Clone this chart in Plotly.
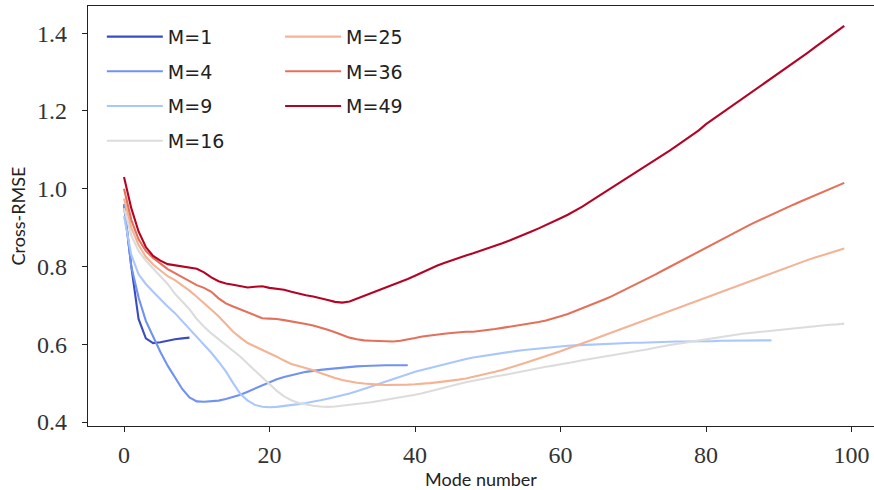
import plotly.graph_objects as go

# ---- data ----
labels = ["M=1", "M=4", "M=9", "M=16", "M=25", "M=36", "M=49"]
colors = ["#3b4cc0", "#6f92f3", "#aac7fd", "#dddcdc", "#f4b394", "#e5705a", "#b40426"]

m1 = [0.96, 0.80, 0.665, 0.615, 0.603, 0.605, 0.609, 0.613, 0.615, 0.617]

m4 = [0.96, 0.80, 0.72, 0.66, 0.62, 0.58, 0.545, 0.515, 0.485, 0.463,
      0.453, 0.452, 0.453, 0.455, 0.459, 0.464, 0.470, 0.478, 0.486, 0.495,
      0.503, 0.510, 0.516, 0.521, 0.525, 0.529, 0.532, 0.534, 0.536, 0.538,
      0.540, 0.542, 0.543, 0.544, 0.545, 0.545, 0.546, 0.546, 0.546, 0.546]

m9 = [0.93, 0.83, 0.78, 0.755, 0.735, 0.715, 0.697, 0.68, 0.66, 0.64,
      0.62, 0.60, 0.578, 0.555, 0.53, 0.50, 0.472, 0.455, 0.444, 0.439,
      0.438, 0.439, 0.441, 0.443, 0.446, 0.449, 0.452, 0.456, 0.460, 0.464,
      0.468, 0.473, 0.479, 0.486, 0.492, 0.498, 0.504, 0.511, 0.517, 0.523,
      0.529, 0.534, 0.539, 0.544, 0.549, 0.554, 0.558, 0.562, 0.566, 0.569,
      0.572, 0.575, 0.578, 0.580, 0.583, 0.585, 0.587, 0.589, 0.591, 0.593,
      0.594, 0.596, 0.597, 0.598, 0.599, 0.600, 0.601, 0.602, 0.603, 0.603,
      0.604, 0.604, 0.605, 0.605, 0.606, 0.606, 0.607, 0.607, 0.607, 0.608,
      0.608, 0.608, 0.609, 0.609, 0.609, 0.609, 0.610, 0.610, 0.610, 0.610]

m16 = [0.95, 0.88, 0.84, 0.815, 0.795, 0.775, 0.755, 0.73, 0.71, 0.69,
       0.665, 0.645, 0.628, 0.613, 0.598, 0.585, 0.568, 0.550, 0.532, 0.515,
       0.497, 0.480, 0.466, 0.456, 0.449, 0.445, 0.442, 0.440, 0.439, 0.440,
       0.442, 0.444, 0.446, 0.448, 0.451, 0.454, 0.457, 0.460, 0.463, 0.467,
       0.470, 0.474, 0.479, 0.484, 0.489, 0.494, 0.498, 0.502, 0.506, 0.509,
       0.513, 0.517, 0.520, 0.524, 0.528, 0.531, 0.535, 0.538, 0.542, 0.545,
       0.548, 0.552, 0.555, 0.559, 0.562, 0.565, 0.568, 0.571, 0.574, 0.577,
       0.580, 0.584, 0.587, 0.591, 0.595, 0.598, 0.601, 0.604, 0.607, 0.610,
       0.612, 0.615, 0.618, 0.621, 0.624, 0.627, 0.629, 0.631, 0.633, 0.635,
       0.638, 0.640, 0.641, 0.643, 0.645, 0.646, 0.648, 0.650, 0.651, 0.653]

m25 = [0.975, 0.90, 0.855, 0.825, 0.805, 0.79, 0.775, 0.765, 0.752, 0.738,
       0.722, 0.706, 0.69, 0.672, 0.652, 0.632, 0.617, 0.603, 0.594, 0.586,
       0.578, 0.568, 0.558, 0.549, 0.544, 0.539, 0.533, 0.526, 0.519, 0.513,
       0.508, 0.504, 0.501, 0.499, 0.497, 0.496, 0.495, 0.495, 0.495, 0.496,
       0.497, 0.498, 0.500, 0.502, 0.504, 0.506, 0.509, 0.512, 0.516, 0.520,
       0.524, 0.529, 0.534, 0.539, 0.545, 0.551, 0.557, 0.563, 0.569, 0.575,
       0.582, 0.589, 0.595, 0.602, 0.609, 0.616, 0.623, 0.630, 0.637, 0.643,
       0.650, 0.657, 0.664, 0.671, 0.678, 0.685, 0.692, 0.699, 0.706, 0.714,
       0.721, 0.728, 0.735, 0.742, 0.749, 0.756, 0.763, 0.770, 0.777, 0.784,
       0.791, 0.798, 0.804, 0.811, 0.817, 0.823, 0.829, 0.835, 0.841, 0.846]

m36 = [1.0, 0.92, 0.87, 0.84, 0.822, 0.807, 0.793, 0.783, 0.773, 0.763,
       0.752, 0.745, 0.735, 0.718, 0.705, 0.697, 0.690, 0.683, 0.674, 0.667,
       0.666, 0.665, 0.662, 0.659, 0.656, 0.652, 0.648, 0.643, 0.637, 0.631,
       0.624, 0.617, 0.613, 0.610, 0.609, 0.608, 0.607, 0.607, 0.609, 0.612,
       0.616, 0.620, 0.623, 0.625, 0.627, 0.629, 0.631, 0.632, 0.632, 0.634,
       0.636, 0.639, 0.642, 0.645, 0.648, 0.650, 0.653, 0.657, 0.661, 0.666,
       0.672, 0.678, 0.685, 0.692, 0.699, 0.707, 0.715, 0.723, 0.732, 0.741,
       0.750, 0.760, 0.769, 0.779, 0.789, 0.799, 0.809, 0.819, 0.829, 0.839,
       0.849, 0.859, 0.869, 0.879, 0.889, 0.898, 0.907, 0.916, 0.925, 0.934,
       0.942, 0.951, 0.959, 0.967, 0.975, 0.983, 0.991, 0.999, 1.007, 1.015]

m49 = [1.03, 0.95, 0.89, 0.85, 0.827, 0.815, 0.806, 0.803, 0.799, 0.796,
       0.794, 0.785, 0.772, 0.762, 0.756, 0.753, 0.750, 0.746, 0.748, 0.749,
       0.745, 0.743, 0.740, 0.735, 0.730, 0.726, 0.723, 0.719, 0.714, 0.709,
       0.707, 0.710, 0.717, 0.725, 0.733, 0.739, 0.746, 0.753, 0.760, 0.768,
       0.776, 0.785, 0.794, 0.802, 0.809, 0.816, 0.822, 0.828, 0.834, 0.840,
       0.847, 0.853, 0.860, 0.867, 0.874, 0.882, 0.890, 0.898, 0.906, 0.915,
       0.924, 0.933, 0.943, 0.954, 0.966, 0.978, 0.990, 1.002, 1.013, 1.024,
       1.036, 1.048, 1.060, 1.072, 1.085, 1.098, 1.111, 1.124, 1.137, 1.150,
       1.166, 1.179, 1.192, 1.205, 1.218, 1.231, 1.244, 1.257, 1.270, 1.283,
       1.296, 1.309, 1.322, 1.336, 1.350, 1.364, 1.378, 1.392, 1.405, 1.419]

series = [m1, m4, m9, m16, m25, m36, m49]
x_ticks = [0, 20, 40, 60, 80, 100]
y_ticks = [0.4, 0.6, 0.8, 1.0, 1.2, 1.4]

fig = go.Figure()
for i, (lab, col, ys) in enumerate(zip(labels, colors, series)):
    fig.add_trace(go.Scatter(
        x=list(range(len(ys))), y=ys, mode="lines", name=lab,
        line=dict(color=col, width=2.1),
        legend="legend" if i < 4 else "legend2",
        legendgroup=lab,
    ))

sans = "Lato, 'DejaVu Sans', sans-serif"
leg_font = "'DejaVu Sans', sans-serif"
serif = "'Liberation Serif', 'DejaVu Serif', serif"
leg_common = dict(
    bgcolor="rgba(255,255,255,0)", borderwidth=0,
    font=dict(family=leg_font, size=19, color="#222"),
    itemwidth=56, tracegroupgap=7,
    xanchor="left", yanchor="top", orientation="v",
)

fig.update_layout(
    width=874, height=490,
    margin=dict(l=88, r=0, t=6, b=64),
    paper_bgcolor="white", plot_bgcolor="white",
    showlegend=True,
    legend=dict(x=0.0176, y=0.972, **leg_common),
    legend2=dict(x=0.2444, y=0.972, **leg_common),
    xaxis=dict(
        range=[-4.95, 103.09], tickvals=x_ticks, ticktext=[str(v) for v in x_ticks],
        automargin=False,
        showgrid=False, zeroline=False, showline=True, mirror=True,
        linecolor="#222", linewidth=1.3, ticks="outside", ticklen=5, tickwidth=1.2,
        tickcolor="#222", tickfont=dict(family=serif, size=24, color="#333"),
        ticklabelstandoff=2,
        title=dict(text="Mode number", font=dict(family=sans, size=18, color="#222"), standoff=2),
    ),
    yaxis=dict(
        range=[0.3897, 1.470], tickvals=y_ticks, ticktext=[f"{v:.1f}" for v in y_ticks],
        automargin=False,
        showgrid=False, zeroline=False, showline=True, mirror=False,
        linecolor="#222", linewidth=1.3, ticks="outside", ticklen=5, tickwidth=1.2,
        tickcolor="#222", tickfont=dict(family=serif, size=24, color="#333"),
        ticklabelstandoff=10,
        title=dict(text="Cross-RMSE", font=dict(family=sans, size=18, color="#222"), standoff=6),
    ),
)

fig.write_html("out.html", config={"displayModeBar": False},
               post_script="document.body.style.margin='0';")
